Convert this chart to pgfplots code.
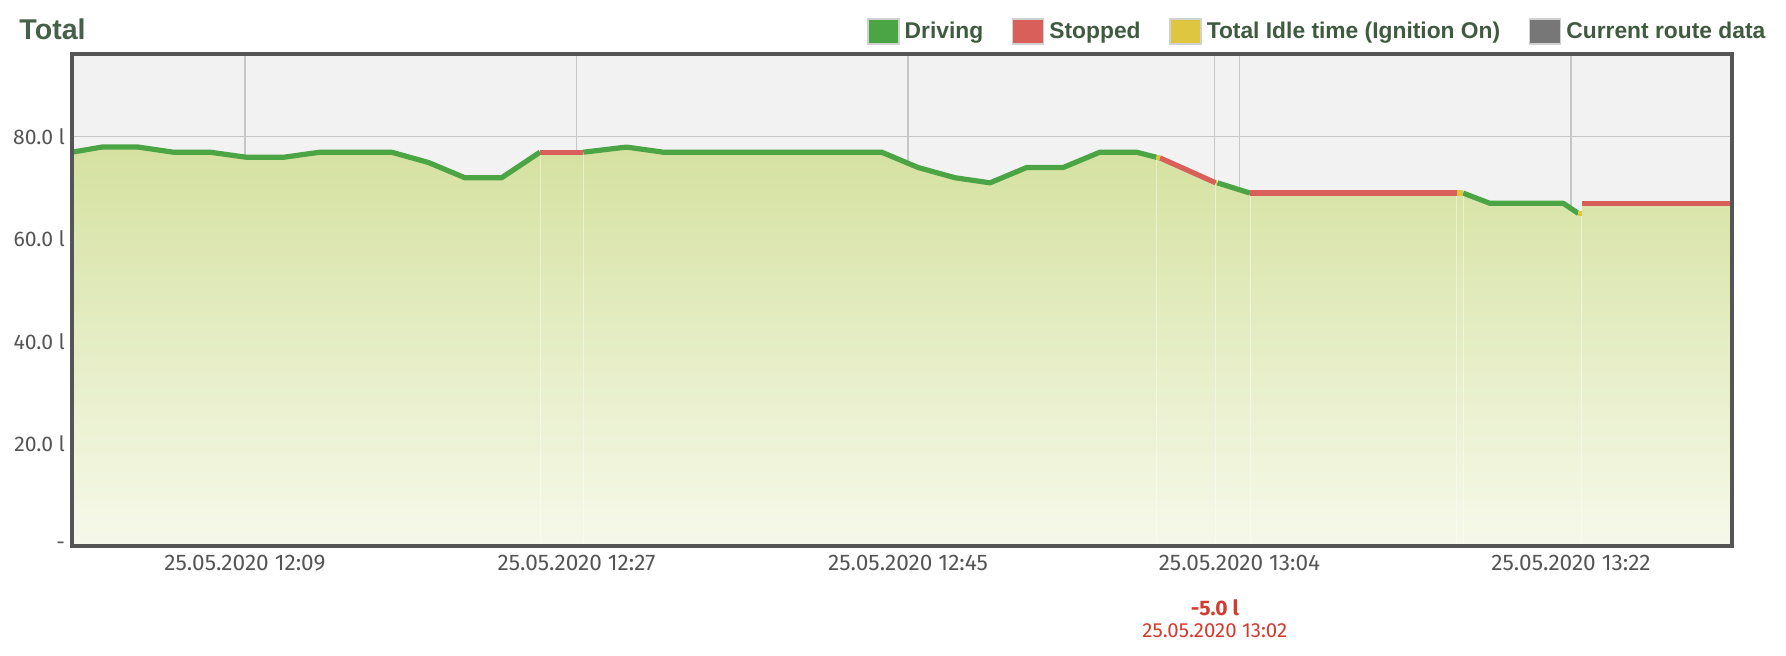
\documentclass[border=0pt]{standalone}
\usepackage{pgfplots}
\pgfplotsset{compat=1.18}
\usepackage{fontspec}
\setmainfont{Fira Sans}
\newfontfamily\libsans{Liberation Sans}
\definecolor{plotbg}{HTML}{F2F2F2}
\definecolor{gridc}{HTML}{C6C6C6}
\definecolor{framec}{HTML}{555555}
\definecolor{filltop}{HTML}{D5E1A0}
\definecolor{fillbot}{HTML}{F6F9EA}
\definecolor{drivec}{HTML}{4CA545}
\definecolor{stopc}{HTML}{D95F5B}
\definecolor{idlec}{HTML}{DFC641}
\definecolor{routec}{HTML}{777777}
\definecolor{legtext}{HTML}{3F5A3F}
\definecolor{titlec}{HTML}{46604A}
\definecolor{tickc}{HTML}{555555}
\definecolor{annred}{HTML}{D43A2F}
\begin{document}
\begin{tikzpicture}
\useasboundingbox (0,0) rectangle (893pt,328pt);
\begin{axis}[
  name=ax,
  at={(36pt,55.2pt)}, anchor=south west,
  scale only axis, width=830pt, height=246pt,
  xmin=-0.39, xmax=89.74, ymin=0, ymax=96.3,
  axis line style={draw=none},
  axis background/.style={fill=plotbg},
  grid=major, major grid style={draw=gridc, line width=0.6pt},
  major tick length=0pt,
  xtick={9,27,45,63,81},
  xticklabels={25.05.2020 12:09,25.05.2020 12:27,25.05.2020 12:45,25.05.2020 13:04,25.05.2020 13:22},
  extra x ticks={61.66}, extra x tick labels={},
  extra x tick style={grid=major},
  ytick={0,20,40,60,80},
  yticklabels={-,20.0 l,40.0 l,60.0 l,80.0 l},
  /pgf/number format/assume math mode=true,
  yticklabel style={font=\fontsize{10.6}{12}\selectfont, text=tickc},
  xticklabel style={font=\fontsize{11.3}{13}\selectfont, text=tickc, yshift=-1.2pt},
  title={Total},
  title style={at={(-0.0319,1.026)}, anchor=west, inner sep=0pt, yshift=0pt,
    font=\libsans\bfseries\fontsize{14.3}{16}\selectfont, text=titlec},
  legend columns=4,
  legend image code/.code={\draw[#1] (0pt,-6.3pt) rectangle (15.5pt,6.3pt);},
  legend style={draw=none, fill=none, at={(1.0233,1.0453)}, anchor=east,
    inner sep=0pt, nodes={inner sep=2.5pt},
    font=\libsans\bfseries\fontsize{11.4}{13}\selectfont, text=legtext,
    /tikz/every even column/.append style={column sep=11.8pt}},
]
% area fill
\addplot[draw=none, top color=filltop, bottom color=fillbot, forget plot] coordinates {
(-0.39,77)(1.22,78)(3.21,78)(5.11,77)(7.10,77)(9.09,76)(11.08,76)(13.07,77)(16.96,77)
(18.95,75)(20.94,72)(22.94,72)(25.02,77)(27.37,77)(29.72,78)(31.71,77)(43.57,77)
(45.55,74)(47.55,72)(49.45,71)(51.44,74)(53.42,74)(55.42,77)(57.41,77)(58.49,76)
(58.67,75.9)(61.71,71)(61.83,71)(63.57,69)(74.78,69)(75.14,69)(76.59,67)(80.58,67)
(81.40,65)(81.57,65)(81.57,67)(89.74,67)} \closedcycle;
% faint segment boundaries
\addplot[white, opacity=0.45, line width=0.5pt, forget plot] coordinates {(25.02,0)(25.02,77)};
\addplot[white, opacity=0.45, line width=0.5pt, forget plot] coordinates {(27.37,0)(27.37,77)};
\addplot[white, opacity=0.45, line width=0.5pt, forget plot] coordinates {(58.49,0)(58.49,76)};
\addplot[white, opacity=0.45, line width=0.5pt, forget plot] coordinates {(61.71,0)(61.71,71)};
\addplot[white, opacity=0.45, line width=0.5pt, forget plot] coordinates {(63.57,0)(63.57,69)};
\addplot[white, opacity=0.45, line width=0.5pt, forget plot] coordinates {(74.78,0)(74.78,69)};
\addplot[white, opacity=0.45, line width=0.5pt, forget plot] coordinates {(75.14,0)(75.14,69)};
\addplot[white, opacity=0.45, line width=0.5pt, forget plot] coordinates {(81.57,0)(81.57,67)};
% driving (green)
\addplot[drivec, line width=2.6pt, line join=round, forget plot] coordinates {
(-0.39,77)(1.22,78)(3.21,78)(5.11,77)(7.10,77)(9.09,76)(11.08,76)(13.07,77)(16.96,77)
(18.95,75)(20.94,72)(22.94,72)(25.02,77)};
\addplot[drivec, line width=2.6pt, line join=round, forget plot] coordinates {
(27.37,77)(29.72,78)(31.71,77)(43.57,77)(45.55,74)(47.55,72)(49.45,71)(51.44,74)
(53.42,74)(55.42,77)(57.41,77)(58.49,76)};
\addplot[drivec, line width=2.6pt, line join=round, forget plot] coordinates {(61.80,71)(63.57,69)};
\addplot[drivec, line width=2.6pt, line join=round, forget plot] coordinates {
(75.14,69)(76.59,67)(80.58,67)(81.40,65)};
% stopped (red)
\addplot[stopc, line width=2.6pt, forget plot] coordinates {(25.02,77)(27.37,77)};
\addplot[stopc, line width=2.6pt, forget plot] coordinates {(58.67,75.9)(61.71,71)};
\addplot[stopc, line width=2.6pt, forget plot] coordinates {(63.57,69)(74.78,69)};
\addplot[stopc, line width=2.6pt, forget plot] coordinates {(81.57,67)(89.74,67)};
% idle (yellow)
\addplot[idlec, line width=2.6pt, forget plot] coordinates {(58.49,76)(58.67,75.9)};
\addplot[idlec, line width=2.6pt, forget plot] coordinates {(61.71,71)(61.80,71)};
\addplot[idlec, line width=2.6pt, forget plot] coordinates {(74.78,69)(75.14,69)};
\addplot[idlec, line width=2.6pt, forget plot] coordinates {(81.40,65)(81.60,65)};
\coordinate (ev) at (axis cs:61.66,0);
% legend
\addlegendimage{fill=drivec, draw=black!18, line width=0.8pt}
\addlegendentry{Driving}
\addlegendimage{fill=stopc, draw=black!18, line width=0.8pt}
\addlegendentry{Stopped}
\addlegendimage{fill=idlec, draw=black!18, line width=0.8pt}
\addlegendentry{Total Idle time (Ignition On)}
\addlegendimage{fill=routec, draw=black!18, line width=0.8pt}
\addlegendentry{Current route data}
\end{axis}
\draw[framec, line width=2pt] (ax.south west) rectangle (ax.north east);
\node[text=annred, font=\bfseries\fontsize{10.5}{12}\selectfont, inner sep=0pt] at ([yshift=-31pt]ev) {-5.0 l};
\node[text=annred, font=\fontsize{10.2}{12}\selectfont, inner sep=0pt] at ([yshift=-42.5pt]ev) {25.05.2020 13:02};
\end{tikzpicture}
\end{document}
